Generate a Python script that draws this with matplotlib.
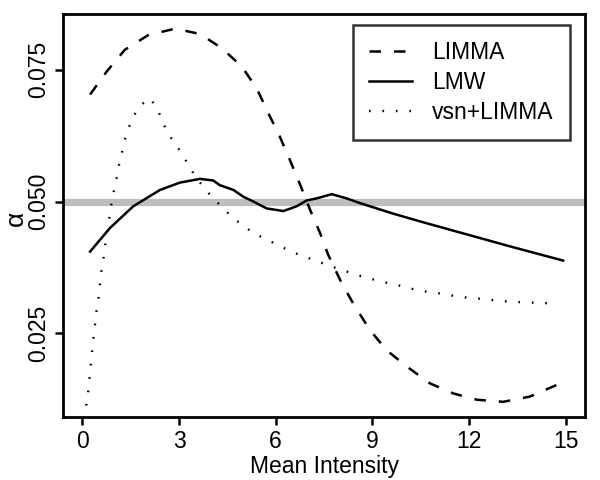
import matplotlib
matplotlib.use("Agg")
import matplotlib.pyplot as plt

limma_x = [0.24, 0.76, 1.32, 2.05, 2.88, 3.65, 4.33, 4.95, 5.41, 5.77, 6.13, 6.44, 6.76, 7.07, 7.38, 7.63,
           8.05, 8.46, 8.93, 9.44, 10.07, 10.79, 11.51, 12.24, 13.06, 13.89, 14.72, 14.91]
limma_y = [0.0703, 0.0747, 0.0788, 0.0816, 0.0828, 0.0818, 0.0791, 0.0756, 0.0715, 0.0668, 0.0623, 0.0579,
           0.0532, 0.0484, 0.0440, 0.0399, 0.0345, 0.0301, 0.0256, 0.0218, 0.0187, 0.0155, 0.0136, 0.0124,
           0.0120, 0.0130, 0.0152, 0.0158]

lmw_x = [0.24, 0.86, 1.58, 2.41, 3.03, 3.65, 4.06, 4.27, 4.69, 5.0, 5.31, 5.72, 6.24, 6.65, 6.96, 7.27,
         7.74, 8.20, 8.62, 9.65, 10.5, 11.5, 13.27, 14.92]
lmw_y = [0.0405, 0.0450, 0.0491, 0.0522, 0.0536, 0.0543, 0.0540, 0.0531, 0.0522, 0.0509, 0.0500, 0.0487,
         0.0482, 0.0491, 0.0502, 0.0506, 0.0514, 0.0506, 0.0497, 0.0477, 0.0462, 0.0445, 0.0415, 0.0388]

vsn_x = [0.12, 0.18, 0.22, 0.26, 0.30, 0.34, 0.39, 0.43, 0.50, 0.54, 0.58, 0.65, 0.70, 0.83, 0.89, 0.96,
         1.05, 1.12, 1.22, 1.30, 1.43, 1.58, 1.79, 2.10, 2.33, 2.48, 2.65, 2.88, 3.11, 3.32, 3.55, 3.79,
         4.06, 4.36, 4.65, 4.98, 5.31, 5.69, 6.05, 6.42, 6.81, 7.20, 7.58, 7.97, 8.36, 8.77, 9.18, 9.57,
         9.96, 10.38, 10.79, 11.20, 11.62, 12.03, 12.44, 12.86, 13.27, 13.68, 14.10, 14.49]
vsn_y = [0.0113, 0.0138, 0.0163, 0.0189, 0.0214, 0.0239, 0.0264, 0.0289, 0.0315, 0.0340, 0.0364, 0.0389,
         0.0415, 0.0465, 0.0491, 0.0515, 0.0539, 0.0565, 0.0589, 0.0614, 0.0639, 0.0661, 0.0682, 0.0696,
         0.0676, 0.0653, 0.0630, 0.0610, 0.0589, 0.0566, 0.0544, 0.0525, 0.0506, 0.0488, 0.0470, 0.0455,
         0.0440, 0.0429, 0.0418, 0.0407, 0.0397, 0.0389, 0.0380, 0.0372, 0.0364, 0.0356, 0.0350, 0.0344,
         0.0339, 0.0332, 0.0328, 0.0325, 0.0320, 0.0317, 0.0315, 0.0312, 0.0310, 0.0309, 0.0308, 0.0307]

series_labels = ['LIMMA', 'LMW', 'vsn+LIMMA']
ref_level = 0.05
x_ticks = [0, 3, 6, 9, 12, 15]
y_ticks = [0.025, 0.050, 0.075]
y_tick_labels = ["0.025", "0.050", "0.075"]

plt.rcParams['font.family'] = ['Liberation Sans', 'DejaVu Sans']

fig = plt.figure(figsize=(6, 4.8), dpi=100)
ax = fig.add_axes([0.105, 0.131, 0.870, 0.840])

ax.axhline(ref_level, color='#BEBEBE', lw=5.2, zorder=1)
ax.plot(limma_x, limma_y, color='black', lw=1.8, linestyle=(0, (4.6, 5.2)), label=series_labels[0], zorder=3)
ax.plot(lmw_x, lmw_y, color='black', lw=1.8, linestyle='-', label=series_labels[1], zorder=3)
ax.plot(vsn_x, vsn_y, color='black', lw=1.7, linestyle=(0, (0.7, 5.0)), label=series_labels[2], zorder=3)

ax.set_xlim(-0.6, 15.6)
ax.set_ylim(0.0091, 0.0856)
ax.set_xticks(x_ticks)
ax.set_yticks(y_ticks)
ax.set_yticklabels(y_tick_labels, rotation=90, va='center')
ax.tick_params(axis='both', direction='out', length=6, width=1.8, labelsize=16.5, pad=3)
for s in ax.spines.values():
    s.set_linewidth(2.0)

ax.set_xlabel('Mean Intensity', fontsize=16.5, labelpad=2)
ax.set_ylabel('α', fontsize=19, va='center')
ax.yaxis.set_label_coords(-0.090, 0.494)

leg = ax.legend(loc='upper right', bbox_to_anchor=(0.971, 0.973), frameon=True, fancybox=False,
                edgecolor='black', fontsize=16.5, handlelength=1.85, handletextpad=0.9,
                borderpad=0.7, labelspacing=0.3, borderaxespad=0)
leg.get_frame().set_linewidth(1.8)

fig.savefig('out.png', dpi=100)
